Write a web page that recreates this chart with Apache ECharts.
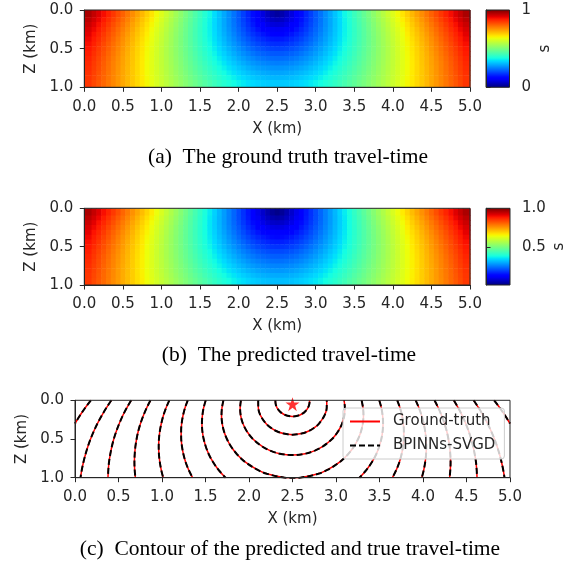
<!DOCTYPE html>
<html><head><meta charset="utf-8">
<script src="https://cdn.jsdelivr.net/npm/echarts@6/dist/echarts.min.js"></script>
<style>html,body{margin:0;padding:0;background:#fff}#c{width:579px;height:572px}</style>
</head><body><div id="c"></div>
<script>
// ---------- data ----------
const xTicks = [0, 0.5, 1, 1.5, 2, 2.5, 3, 3.5, 4, 4.5, 5];
const zTicks = [0, 0.5, 1];
const xCells = [0.0625,0.125,0.1875,0.25,0.3125,0.375,0.4375,0.5,0.5625,0.625,0.6875,0.75,0.8125,0.875,0.9375,1,1.0625,1.125,1.1875,1.25,1.3125,1.375,1.4375,1.5,1.5625,1.625,1.6875,1.75,1.8125,1.875,1.9375,2,2.0625,2.125,2.1875,2.25,2.3125,2.375,2.4375,2.5,2.5625,2.625,2.6875,2.75,2.8125,2.875,2.9375,3,3.0625,3.125,3.1875,3.25,3.3125,3.375,3.4375,3.5,3.5625,3.625,3.6875,3.75,3.8125,3.875,3.9375,4,4.0625,4.125,4.1875,4.25,4.3125,4.375,4.4375,4.5,4.5625,4.625,4.6875,4.75,4.8125,4.875,4.9375];
const zCells = [0.0625,0.125,0.1875,0.25,0.3125,0.375,0.4375,0.5,0.5625,0.625,0.6875,0.75,0.8125,0.875,0.9375];

const truthTime = [
[0.963,0.941,0.919,0.897,0.875,0.853,0.830,0.807,0.784,0.761,0.738,0.715,0.691,0.667,0.643,0.619,0.594,0.570,0.545,0.520,0.495,0.470,0.445,0.420,0.394,0.369,0.343,0.317,0.291,0.265,0.239,0.213,0.187,0.161,0.135,0.109,0.084,0.059,0.038,0.027,0.038,0.059,0.084,0.109,0.135,0.161,0.187,0.213,0.239,0.265,0.291,0.317,0.343,0.369,0.394,0.420,0.445,0.470,0.495,0.520,0.545,0.570,0.594,0.619,0.643,0.667,0.691,0.715,0.738,0.761,0.784,0.807,0.830,0.853,0.875,0.897,0.919,0.941,0.963],
[0.949,0.928,0.906,0.884,0.862,0.840,0.818,0.796,0.773,0.750,0.727,0.704,0.681,0.657,0.634,0.610,0.586,0.562,0.538,0.514,0.489,0.464,0.440,0.415,0.390,0.365,0.340,0.315,0.290,0.265,0.239,0.214,0.189,0.165,0.140,0.117,0.094,0.074,0.058,0.052,0.058,0.074,0.094,0.117,0.140,0.165,0.189,0.214,0.239,0.265,0.290,0.315,0.340,0.365,0.390,0.415,0.440,0.464,0.489,0.514,0.538,0.562,0.586,0.610,0.634,0.657,0.681,0.704,0.727,0.750,0.773,0.796,0.818,0.840,0.862,0.884,0.906,0.928,0.949],
[0.936,0.915,0.894,0.872,0.851,0.829,0.807,0.785,0.763,0.740,0.718,0.695,0.672,0.649,0.626,0.603,0.579,0.556,0.532,0.508,0.484,0.460,0.436,0.412,0.388,0.363,0.339,0.315,0.290,0.266,0.242,0.218,0.195,0.172,0.149,0.128,0.109,0.092,0.081,0.077,0.081,0.092,0.109,0.128,0.149,0.172,0.195,0.218,0.242,0.266,0.290,0.315,0.339,0.363,0.388,0.412,0.436,0.460,0.484,0.508,0.532,0.556,0.579,0.603,0.626,0.649,0.672,0.695,0.718,0.740,0.763,0.785,0.807,0.829,0.851,0.872,0.894,0.915,0.936],
[0.924,0.904,0.883,0.862,0.840,0.819,0.797,0.776,0.754,0.732,0.709,0.687,0.665,0.642,0.619,0.597,0.574,0.551,0.527,0.504,0.481,0.457,0.434,0.410,0.387,0.363,0.340,0.317,0.293,0.270,0.247,0.225,0.203,0.181,0.161,0.142,0.126,0.113,0.104,0.101,0.104,0.113,0.126,0.142,0.161,0.181,0.203,0.225,0.247,0.270,0.293,0.317,0.340,0.363,0.387,0.410,0.434,0.457,0.481,0.504,0.527,0.551,0.574,0.597,0.619,0.642,0.665,0.687,0.709,0.732,0.754,0.776,0.797,0.819,0.840,0.862,0.883,0.904,0.924],
[0.914,0.893,0.873,0.852,0.831,0.810,0.789,0.767,0.746,0.724,0.702,0.681,0.659,0.636,0.614,0.592,0.569,0.547,0.524,0.502,0.479,0.456,0.433,0.411,0.388,0.365,0.343,0.320,0.298,0.276,0.254,0.233,0.213,0.193,0.175,0.159,0.145,0.133,0.126,0.124,0.126,0.133,0.145,0.159,0.175,0.193,0.213,0.233,0.254,0.276,0.298,0.320,0.343,0.365,0.388,0.411,0.433,0.456,0.479,0.502,0.524,0.547,0.569,0.592,0.614,0.636,0.659,0.681,0.702,0.724,0.746,0.767,0.789,0.810,0.831,0.852,0.873,0.893,0.914],
[0.904,0.884,0.864,0.843,0.823,0.802,0.781,0.760,0.739,0.718,0.696,0.675,0.653,0.632,0.610,0.588,0.566,0.544,0.522,0.500,0.478,0.456,0.434,0.412,0.390,0.368,0.347,0.325,0.304,0.283,0.263,0.243,0.224,0.207,0.190,0.176,0.164,0.154,0.148,0.146,0.148,0.154,0.164,0.176,0.190,0.207,0.224,0.243,0.263,0.283,0.304,0.325,0.347,0.368,0.390,0.412,0.434,0.456,0.478,0.500,0.522,0.544,0.566,0.588,0.610,0.632,0.653,0.675,0.696,0.718,0.739,0.760,0.781,0.802,0.823,0.843,0.864,0.884,0.904],
[0.895,0.876,0.856,0.835,0.815,0.795,0.774,0.754,0.733,0.712,0.691,0.670,0.649,0.628,0.607,0.586,0.564,0.543,0.521,0.500,0.479,0.457,0.436,0.415,0.394,0.373,0.352,0.332,0.311,0.292,0.273,0.255,0.237,0.221,0.206,0.194,0.183,0.175,0.170,0.168,0.170,0.175,0.183,0.194,0.206,0.221,0.237,0.255,0.273,0.292,0.311,0.332,0.352,0.373,0.394,0.415,0.436,0.457,0.479,0.500,0.521,0.543,0.564,0.586,0.607,0.628,0.649,0.670,0.691,0.712,0.733,0.754,0.774,0.795,0.815,0.835,0.856,0.876,0.895],
[0.887,0.868,0.848,0.829,0.809,0.789,0.769,0.749,0.728,0.708,0.687,0.667,0.646,0.626,0.605,0.584,0.563,0.542,0.522,0.501,0.480,0.460,0.439,0.418,0.398,0.378,0.358,0.339,0.320,0.302,0.284,0.267,0.251,0.236,0.223,0.211,0.202,0.195,0.191,0.189,0.191,0.195,0.202,0.211,0.223,0.236,0.251,0.267,0.284,0.302,0.320,0.339,0.358,0.378,0.398,0.418,0.439,0.460,0.480,0.501,0.522,0.542,0.563,0.584,0.605,0.626,0.646,0.667,0.687,0.708,0.728,0.749,0.769,0.789,0.809,0.829,0.848,0.868,0.887],
[0.881,0.861,0.842,0.823,0.803,0.784,0.764,0.744,0.724,0.704,0.684,0.664,0.644,0.624,0.604,0.583,0.563,0.543,0.523,0.503,0.483,0.463,0.443,0.423,0.404,0.385,0.366,0.347,0.330,0.312,0.296,0.280,0.265,0.252,0.240,0.229,0.221,0.215,0.211,0.210,0.211,0.215,0.221,0.229,0.240,0.252,0.265,0.280,0.296,0.312,0.330,0.347,0.366,0.385,0.404,0.423,0.443,0.463,0.483,0.503,0.523,0.543,0.563,0.583,0.604,0.624,0.644,0.664,0.684,0.704,0.724,0.744,0.764,0.784,0.803,0.823,0.842,0.861,0.881],
[0.874,0.855,0.836,0.817,0.798,0.779,0.760,0.740,0.721,0.702,0.682,0.662,0.643,0.623,0.603,0.584,0.564,0.544,0.525,0.505,0.486,0.467,0.448,0.429,0.410,0.392,0.374,0.357,0.340,0.324,0.308,0.293,0.280,0.267,0.257,0.247,0.240,0.234,0.231,0.230,0.231,0.234,0.240,0.247,0.257,0.267,0.280,0.293,0.308,0.324,0.340,0.357,0.374,0.392,0.410,0.429,0.448,0.467,0.486,0.505,0.525,0.544,0.564,0.584,0.603,0.623,0.643,0.662,0.682,0.702,0.721,0.740,0.760,0.779,0.798,0.817,0.836,0.855,0.874],
[0.869,0.850,0.832,0.813,0.794,0.775,0.757,0.738,0.719,0.700,0.680,0.661,0.642,0.623,0.604,0.585,0.566,0.547,0.528,0.509,0.490,0.472,0.453,0.435,0.418,0.400,0.383,0.367,0.351,0.335,0.321,0.307,0.295,0.283,0.273,0.265,0.258,0.253,0.250,0.249,0.250,0.253,0.258,0.265,0.273,0.283,0.295,0.307,0.321,0.335,0.351,0.367,0.383,0.400,0.418,0.435,0.453,0.472,0.490,0.509,0.528,0.547,0.566,0.585,0.604,0.623,0.642,0.661,0.680,0.700,0.719,0.738,0.757,0.775,0.794,0.813,0.832,0.850,0.869],
[0.864,0.846,0.828,0.809,0.791,0.773,0.754,0.735,0.717,0.698,0.680,0.661,0.642,0.624,0.605,0.586,0.568,0.550,0.531,0.513,0.495,0.477,0.460,0.442,0.425,0.409,0.393,0.377,0.362,0.348,0.334,0.321,0.310,0.299,0.290,0.282,0.276,0.272,0.269,0.268,0.269,0.272,0.276,0.282,0.290,0.299,0.310,0.321,0.334,0.348,0.362,0.377,0.393,0.409,0.425,0.442,0.460,0.477,0.495,0.513,0.531,0.550,0.568,0.586,0.605,0.624,0.642,0.661,0.680,0.698,0.717,0.735,0.754,0.773,0.791,0.809,0.828,0.846,0.864],
[0.860,0.842,0.824,0.806,0.788,0.770,0.752,0.734,0.716,0.698,0.679,0.661,0.643,0.625,0.607,0.589,0.571,0.553,0.535,0.518,0.501,0.483,0.466,0.450,0.434,0.418,0.403,0.388,0.374,0.360,0.347,0.336,0.325,0.315,0.307,0.300,0.294,0.290,0.287,0.286,0.287,0.290,0.294,0.300,0.307,0.315,0.325,0.336,0.347,0.360,0.374,0.388,0.403,0.418,0.434,0.450,0.466,0.483,0.501,0.518,0.535,0.553,0.571,0.589,0.607,0.625,0.643,0.661,0.679,0.698,0.716,0.734,0.752,0.770,0.788,0.806,0.824,0.842,0.860],
[0.856,0.839,0.821,0.804,0.786,0.769,0.751,0.733,0.715,0.698,0.680,0.662,0.645,0.627,0.609,0.592,0.574,0.557,0.540,0.523,0.507,0.490,0.474,0.458,0.442,0.427,0.413,0.399,0.385,0.373,0.361,0.350,0.340,0.331,0.323,0.316,0.311,0.307,0.305,0.304,0.305,0.307,0.311,0.316,0.323,0.331,0.340,0.350,0.361,0.373,0.385,0.399,0.413,0.427,0.442,0.458,0.474,0.490,0.507,0.523,0.540,0.557,0.574,0.592,0.609,0.627,0.645,0.662,0.680,0.698,0.715,0.733,0.751,0.769,0.786,0.804,0.821,0.839,0.856],
[0.854,0.836,0.819,0.802,0.785,0.767,0.750,0.733,0.716,0.698,0.681,0.664,0.647,0.629,0.612,0.595,0.579,0.562,0.545,0.529,0.513,0.497,0.482,0.466,0.452,0.437,0.423,0.410,0.397,0.386,0.374,0.364,0.355,0.346,0.339,0.333,0.328,0.325,0.323,0.322,0.323,0.325,0.328,0.333,0.339,0.346,0.355,0.364,0.374,0.386,0.397,0.410,0.423,0.437,0.452,0.466,0.482,0.497,0.513,0.529,0.545,0.562,0.579,0.595,0.612,0.629,0.647,0.664,0.681,0.698,0.716,0.733,0.750,0.767,0.785,0.802,0.819,0.836,0.854]
];
// the predicted field is visually indistinguishable from the ground truth
const predTime = truthTime;

const cbarRangeA = [0, 1];
const cbarTicksA = [0, 1];
const cbarRangeB = [0.018, 1.0];
const cbarTicksB = [0.5, 1.0];

// contour curves [x, z]
const contour1 = [[2.303,0],[2.307,0.05],[2.324,0.1],[2.360,0.15],[2.398,0.18],[2.442,0.2],[2.5,0.209],[2.558,0.2],[2.602,0.18],[2.640,0.15],[2.676,0.1],[2.693,0.05],[2.697,0]];
const contour2 = [[2.106,0],[2.107,0.1],[2.134,0.2],[2.195,0.3],[2.244,0.35],[2.319,0.4],[2.397,0.43],[2.5,0.444],[2.603,0.43],[2.681,0.4],[2.756,0.35],[2.805,0.3],[2.866,0.2],[2.893,0.1],[2.894,0]];
const contour3 = [[1.907,0],[1.898,0.1],[1.905,0.2],[1.930,0.3],[1.975,0.4],[2.045,0.5],[2.156,0.6],[2.243,0.65],[2.355,0.69],[2.5,0.708],[2.645,0.69],[2.757,0.65],[2.844,0.6],[2.955,0.5],[3.025,0.4],[3.070,0.3],[3.095,0.2],[3.102,0.1],[3.093,0]];
const contour4 = [[1.706,0],[1.689,0.1],[1.684,0.2],[1.692,0.3],[1.712,0.4],[1.746,0.5],[1.795,0.6],[1.864,0.7],[1.959,0.8],[2.100,0.9],[2.205,0.95],[2.410,1.0],[2.5,1.005],[2.590,1.0],[2.795,0.95],[2.900,0.9],[3.041,0.8],[3.136,0.7],[3.205,0.6],[3.254,0.5],[3.288,0.4],[3.308,0.3],[3.316,0.2],[3.311,0.1],[3.294,0]];
const contour5L = [[1.503,0],[1.478,0.1],[1.464,0.2],[1.459,0.3],[1.464,0.4],[1.479,0.5],[1.504,0.6],[1.539,0.7],[1.588,0.8],[1.650,0.9],[1.731,1.0]];
const contour5R = [[3.497,0],[3.522,0.1],[3.536,0.2],[3.541,0.3],[3.536,0.4],[3.521,0.5],[3.496,0.6],[3.461,0.7],[3.412,0.8],[3.350,0.9],[3.269,1.0]];
const contour6L = [[1.296,0],[1.264,0.1],[1.241,0.2],[1.226,0.3],[1.220,0.4],[1.221,0.5],[1.230,0.6],[1.247,0.7],[1.272,0.8],[1.307,0.9],[1.351,1.0]];
const contour6R = [[3.704,0],[3.736,0.1],[3.759,0.2],[3.774,0.3],[3.780,0.4],[3.779,0.5],[3.770,0.6],[3.753,0.7],[3.728,0.8],[3.693,0.9],[3.649,1.0]];
const contour7L = [[1.084,0],[1.046,0.1],[1.015,0.2],[0.992,0.3],[0.975,0.4],[0.965,0.5],[0.962,0.6],[0.965,0.7],[0.975,0.8],[0.991,0.9],[1.014,1.0]];
const contour7R = [[3.916,0],[3.954,0.1],[3.985,0.2],[4.008,0.3],[4.025,0.4],[4.035,0.5],[4.038,0.6],[4.035,0.7],[4.025,0.8],[4.009,0.9],[3.986,1.0]];
const contour8L = [[0.868,0],[0.823,0.1],[0.785,0.2],[0.753,0.3],[0.727,0.4],[0.708,0.5],[0.694,0.6],[0.686,0.7],[0.683,0.8],[0.686,0.9],[0.694,1.0]];
const contour8R = [[4.132,0],[4.177,0.1],[4.215,0.2],[4.247,0.3],[4.273,0.4],[4.292,0.5],[4.306,0.6],[4.314,0.7],[4.317,0.8],[4.314,0.9],[4.306,1.0]];
const contour9L = [[0.646,0],[0.594,0.1],[0.548,0.2],[0.509,0.3],[0.475,0.4],[0.446,0.5],[0.423,0.6],[0.405,0.7],[0.391,0.8],[0.383,0.9],[0.379,1.0]];
const contour9R = [[4.354,0],[4.406,0.1],[4.452,0.2],[4.491,0.3],[4.525,0.4],[4.554,0.5],[4.577,0.6],[4.595,0.7],[4.609,0.8],[4.617,0.9],[4.621,1.0]];
const contour10L = [[0.418,0],[0.359,0.1],[0.306,0.2],[0.258,0.3],[0.216,0.4],[0.179,0.5],[0.147,0.6],[0.120,0.7],[0.097,0.8],[0.078,0.9],[0.063,1.0]];
const contour10R = [[4.582,0],[4.641,0.1],[4.694,0.2],[4.742,0.3],[4.784,0.4],[4.821,0.5],[4.853,0.6],[4.880,0.7],[4.903,0.8],[4.922,0.9],[4.937,1.0]];
const contour11L = [[0.182,0],[0.116,0.1],[0.055,0.2],[0.0,0.3]];
const contour11R = [[4.818,0],[4.884,0.1],[4.945,0.2],[5.0,0.3]];
const truthContours = [contour1,contour2,contour3,contour4,contour5L,contour5R,contour6L,contour6R,contour7L,contour7R,contour8L,contour8R,contour9L,contour9R,contour10L,contour10R,contour11L,contour11R];
const predContours = truthContours;
const sourcePoint = [2.5, 0.05];

const captionA = '(a)  The ground truth travel-time';
const captionB = '(b)  The predicted travel-time';
const captionC = '(c)  Contour of the predicted and true travel-time';

// ---------- styling helpers ----------
function jet(t){
  t = Math.max(0, Math.min(1, t));
  const r = t < 0.35 ? 0 : t < 0.66 ? (t-0.35)/0.31 : t < 0.89 ? 1 : 1-(t-0.89)/0.11*0.5;
  const g = t < 0.125 ? 0 : t < 0.375 ? (t-0.125)/0.25 : t < 0.64 ? 1 : t < 0.91 ? 1-(t-0.64)/0.27 : 0;
  const b = t < 0.11 ? 0.5+t/0.11*0.5 : t < 0.34 ? 1 : t < 0.65 ? 1-(t-0.34)/0.31 : 0;
  return 'rgb(' + Math.round(r*255) + ',' + Math.round(g*255) + ',' + Math.round(b*255) + ')';
}
function jetStops(){
  const s = [];
  for (let i = 0; i <= 60; i++) { const t = i/60; s.push({offset: 1 - t, color: jet(t)}); }
  return s;
}
function cells(table){
  const out = [];
  for (let j = 0; j < zCells.length; j++)
    for (let i = 0; i < xCells.length; i++) out.push([xCells[i], zCells[j], table[j][i], i, j]);
  return out;
}
function edge(arr, k, lo, hi){
  const a = k === 0 ? lo : (arr[k-1] + arr[k]) / 2;
  const b = k === arr.length - 1 ? hi : (arr[k] + arr[k+1]) / 2;
  return [a, b];
}
function cellRender(vmin, vmax){
  return function(params, api){
    const v = api.value(2), i = api.value(3), j = api.value(4);
    const ex = edge(xCells, i, xTicks[0], xTicks[xTicks.length-1]);
    const ez = edge(zCells, j, zTicks[0], zTicks[zTicks.length-1]);
    const p0 = api.coord([ex[0], ez[0]]);
    const p1 = api.coord([ex[1], ez[1]]);
    return {type:'rect', shape:{x:Math.min(p0[0],p1[0]), y:Math.min(p0[1],p1[1]),
      width:Math.abs(p1[0]-p0[0])+0.6, height:Math.abs(p1[1]-p0[1])+0.6},
      style:{fill: jet((v - vmin)/(vmax - vmin))}};
  };
}
function cbarRender(params, api){
  const p0 = api.coord([0, api.value(1)]);
  const p1 = api.coord([1, api.value(0)]);
  return {type:'rect', shape:{x:p0[0], y:p0[1], width:p1[0]-p0[0], height:p1[1]-p0[1]},
    style:{fill: new echarts.graphic.LinearGradient(0,0,0,1, jetStops())}};
}

const TXT = '#262626', LINE = '#262626', FF = 'DejaVu Sans', FS = 15;
function xAx(gi){
  return {gridIndex:gi, type:'value', min:xTicks[0], max:xTicks[xTicks.length-1], interval:0.5, z:10,
    axisLine:{show:true, onZero:false, lineStyle:{color:LINE, width:1}},
    axisTick:{show:true, length:4.5, lineStyle:{color:LINE}},
    axisLabel:{show:true, margin:12, color:TXT, fontFamily:FF, fontSize:FS, showMinLabel:true, showMaxLabel:true, formatter:v=>v.toFixed(1)},
    splitLine:{show:false},
    name:'X (km)', nameLocation:'middle', nameGap:34, nameTextStyle:{color:TXT, fontFamily:FF, fontSize:FS}};
}
function yAx(gi){
  return {gridIndex:gi, type:'value', min:zTicks[0], max:zTicks[zTicks.length-1], interval:0.5, inverse:true, z:10,
    axisLine:{show:true, onZero:false, lineStyle:{color:LINE, width:1}},
    axisTick:{show:true, length:4.5, lineStyle:{color:LINE}},
    axisLabel:{show:true, margin:11, color:TXT, fontFamily:FF, fontSize:FS, showMinLabel:true, showMaxLabel:true, formatter:v=>v.toFixed(1)},
    splitLine:{show:false},
    name:'Z (km)', nameLocation:'middle', nameRotate:90, nameGap:37, nameTextStyle:{color:TXT, fontFamily:FF, fontSize:FS}};
}
function cbX(gi){ return {gridIndex:gi, type:'value', min:0, max:1, show:false}; }
function cbY(gi, range, ticks, fmt, gap){
  return {gridIndex:gi, type:'value', position:'right', min:range[0], max:range[1], z:10,
    axisLine:{show:true, lineStyle:{color:LINE, width:1}},
    axisTick:{show:true, length:4.5, lineStyle:{color:LINE}, customValues:ticks},
    axisLabel:{show:true, margin:12, color:TXT, fontFamily:FF, fontSize:FS, customValues:ticks, formatter:fmt},
    splitLine:{show:false},
    name:'s', nameLocation:'middle', nameRotate:90, nameGap:gap, nameTextStyle:{color:TXT, fontFamily:FF, fontSize:FS}};
}
const gridBase = {show:true, borderColor:LINE, borderWidth:1, backgroundColor:'transparent', z:9, containLabel:false};

const series = [];
series.push({type:'custom', xAxisIndex:0, yAxisIndex:0, renderItem:cellRender(cbarRangeA[0], cbarRangeA[1]), data:cells(truthTime), clip:true, silent:true});
series.push({type:'custom', xAxisIndex:1, yAxisIndex:1, renderItem:cellRender(cbarRangeB[0], cbarRangeB[1]), data:cells(predTime), clip:true, silent:true});
series.push({type:'custom', xAxisIndex:2, yAxisIndex:3, renderItem:cbarRender, data:[cbarRangeA], silent:true});
series.push({type:'custom', xAxisIndex:3, yAxisIndex:4, renderItem:cbarRender, data:[cbarRangeB], silent:true});
truthContours.forEach(c => series.push({type:'line', name:'Ground-truth', xAxisIndex:4, yAxisIndex:2, data:c,
  symbol:'none', smooth:0.35, clip:true, silent:true, z:3, lineStyle:{color:'#ff0000', width:1.5}, itemStyle:{color:'#ff0000'}}));
predContours.forEach(c => series.push({type:'line', name:'BPINNs-SVGD', xAxisIndex:4, yAxisIndex:2, data:c,
  symbol:'none', smooth:0.35, clip:true, silent:true, z:4, lineStyle:{color:'#000000', width:2, type:[6,3]}, itemStyle:{color:'#000000'}}));
series.push({type:'scatter', xAxisIndex:4, yAxisIndex:2, data:[sourcePoint], clip:true, silent:true, z:5,
  symbol:'path://M50,0 L61.2,34.5 L97.6,34.5 L68.2,55.9 L79.4,90.5 L50,69.1 L20.6,90.5 L31.8,55.9 L2.4,34.5 L38.8,34.5 Z',
  symbolSize:14, itemStyle:{color:'#ff0000'}});

const option = {
  animation:false,
  backgroundColor:'#ffffff',
  grid:[
    Object.assign({left:84.3, top:10, width:385.7, height:77.3}, gridBase),
    Object.assign({left:84.3, top:208.3, width:385.7, height:76.7}, gridBase),
    Object.assign({left:75, top:400.3, width:435, height:77.4}, gridBase),
    Object.assign({left:486, top:10, width:23.5, height:77.3}, gridBase),
    Object.assign({left:486, top:208.3, width:24, height:76.7}, gridBase)
  ],
  xAxis:[xAx(0), xAx(1), cbX(3), cbX(4), xAx(2)],
  yAxis:[yAx(0), yAx(1), yAx(2),
    cbY(3, cbarRangeA, cbarTicksA, v => String(Math.round(v)), 28),
    cbY(4, cbarRangeB, cbarTicksB, v => v.toFixed(1), 42)],
  legend:{data:['Ground-truth','BPINNs-SVGD'], orient:'vertical', left:343, top:408, z:20,
    padding:[6,9,6,6], itemWidth:30, itemHeight:12, itemGap:9,
    itemStyle:{opacity:0},
    backgroundColor:'rgba(255,255,255,0.8)', borderColor:'#cccccc', borderWidth:1, borderRadius:3,
    textStyle:{color:TXT, fontFamily:FF, fontSize:FS, padding:[0,0,0,8]}, selectedMode:false},
  graphic:[
    {type:'text', x:288, y:157, style:{text:captionA, font:'21.5px "Liberation Serif"', fill:'#000', textAlign:'center', textVerticalAlign:'middle'}},
    {type:'text', x:289, y:355, style:{text:captionB, font:'21.5px "Liberation Serif"', fill:'#000', textAlign:'center', textVerticalAlign:'middle'}},
    {type:'text', x:290, y:549, style:{text:captionC, font:'21.5px "Liberation Serif"', fill:'#000', textAlign:'center', textVerticalAlign:'middle'}}
  ],
  series:series
};
const chart = echarts.init(document.getElementById('c'), null, {renderer:'canvas'});
chart.setOption(option);
</script></body></html>
